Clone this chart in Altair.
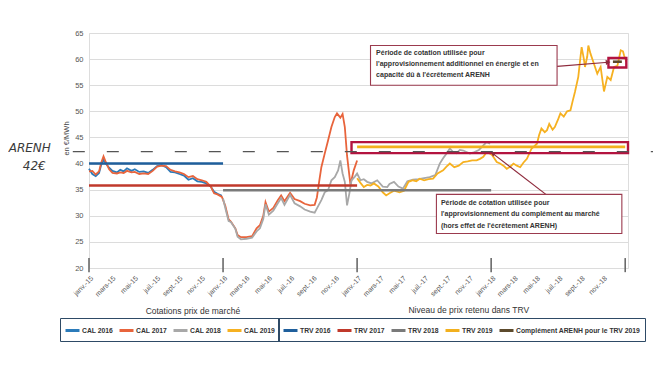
import altair as alt
import pandas as pd

FONT = "Liberation Sans"

# x = months since January 2015
x_labels = ["janv.-15", "mars-15", "mai-15", "juil.-15", "sept.-15", "nov.-15",
            "janv.-16", "mars-16", "mai-16", "juil.-16", "sept.-16", "nov.-16",
            "janv.-17", "mars-17", "mai-17", "juil.-17", "sept.-17", "nov.-17",
            "janv.-18", "mars-18", "mai-18", "juil.-18", "sept.-18", "nov.-18"]
y_ticks = [20, 25, 30, 35, 40, 45, 50, 55, 60, 65]

cal_names = ["CAL 2016", "CAL 2017", "CAL 2018", "CAL 2019"]
cal_colors = ["#2B7BBA", "#E8643C", "#A8A8A8", "#F6B121"]

cal2016_m = [0, 0.3, 0.6, 0.9, 1.1, 1.3, 1.5, 1.8, 2.1, 2.5, 2.8, 3.1, 3.4, 3.8, 4.1, 4.5, 4.9,
             5.3, 5.7, 6.1, 6.5, 6.9, 7.3, 7.7, 8.1, 8.5, 8.9, 9.3, 9.7, 10.1, 10.5, 10.9,
             11.2, 11.5, 11.9]
cal2016_v = [39.0, 38.0, 37.6, 38.2, 39.8, 40.9, 40.0, 39.2, 38.6, 38.3, 38.8, 38.5, 39.1,
             38.6, 38.9, 38.4, 38.5, 38.2, 38.8, 39.5, 39.7, 39.3, 38.4, 38.3, 38.0, 37.7,
             36.9, 37.2, 36.6, 36.5, 36.2, 35.6, 34.6, 34.2, 33.8]

cal2017_m = [0, 0.3, 0.6, 0.9, 1.1, 1.3, 1.5, 1.8, 2.1, 2.5, 2.8, 3.1, 3.4, 3.8, 4.1, 4.5, 4.9,
             5.3, 5.7, 6.1, 6.5, 6.9, 7.3, 7.7, 8.1, 8.5, 8.9, 9.3, 9.7, 10.1, 10.5, 10.9,
             11.2, 11.5, 11.9, 12.2, 12.5, 12.7, 13.1, 13.3, 13.6, 14.1, 14.6, 15.0, 15.3,
             15.6, 15.8, 16.1, 16.5, 16.9, 17.2, 17.5, 18.0, 18.4, 18.9, 19.3, 19.8, 20.2,
             20.4, 20.6, 20.8, 21.1, 21.4, 21.7, 22.0, 22.2, 22.5, 22.7, 22.9, 23.1, 23.4,
             23.7, 24.0]
cal2017_v = [38.5, 38.6, 37.9, 38.5, 40.2, 41.4, 40.3, 38.9, 38.2, 38.1, 38.3, 38.2, 38.6,
             38.3, 38.4, 38.0, 38.1, 38.0, 38.6, 39.4, 39.6, 39.5, 38.8, 38.5, 38.3, 38.0,
             37.4, 37.6, 37.0, 36.8, 36.5, 35.6, 34.3, 34.1, 33.6, 31.9, 29.3, 28.9, 27.6,
             26.3, 25.9, 25.9, 26.1, 27.6, 28.2, 30.0, 32.6, 30.8, 31.5, 33.0, 33.9, 32.8,
             34.4, 33.2, 32.8, 32.3, 32.0, 32.1, 33.5, 36.5, 39.3, 41.9, 44.4, 47.0, 48.9,
             49.6, 48.8, 49.5, 47.0, 41.5, 36.0, 38.7, 40.6]

cal2018_m = [12.0, 12.2, 12.5, 12.7, 13.1, 13.3, 13.6, 14.1, 14.6, 15.0, 15.3, 15.6, 15.8,
             16.1, 16.5, 16.9, 17.2, 17.5, 18.0, 18.4, 18.9, 19.3, 19.8, 20.2, 20.5, 20.8,
             21.1, 21.4, 21.7, 22.0, 22.3, 22.5, 22.7, 22.9, 23.1, 23.3, 23.5, 23.8, 24.0,
             24.3, 24.6, 24.9, 25.3, 25.8, 26.3, 26.7, 26.9, 27.3, 27.7, 28.1, 28.5, 29.0,
             29.5, 30.0, 30.5, 31.0, 31.4, 31.7, 32.0, 32.3, 32.6, 32.9, 33.2, 33.5, 34.1,
             34.5, 34.9, 35.3, 35.6, 35.9]
cal2018_v = [33.3, 31.5, 29.0, 28.8, 27.5, 26.0, 25.5, 25.6, 25.8, 27.0, 27.6, 29.4, 32.2,
             30.2, 31.0, 32.4, 33.4, 32.1, 34.0, 32.4, 31.8, 31.2, 30.8, 30.6, 31.8, 33.0,
             34.5, 34.9, 36.8, 37.4, 38.7, 40.6, 38.1, 36.5, 32.0, 34.2, 36.8, 37.5, 38.1,
             36.8, 37.0, 36.5, 36.2, 36.8, 35.6, 35.5, 36.1, 36.5, 35.6, 35.2, 36.6, 36.9,
             37.0, 37.2, 37.4, 37.8, 40.0, 41.0, 41.9, 42.9, 42.2, 42.0, 42.6, 42.5, 41.9,
             42.2, 42.6, 43.5, 44.1, 43.8]

cal2019_m = [24.0, 24.3, 24.6, 24.9, 25.2, 25.5, 25.9, 26.3, 26.6, 26.9, 27.3, 27.8, 28.2,
             28.6, 29.0, 29.3, 29.6, 30.0, 30.4, 30.8, 31.2, 31.7, 32.0, 32.3, 32.7, 33.1,
             33.5, 33.9, 34.3, 34.7, 35.0, 35.3, 35.6, 35.9, 36.1, 36.5, 36.8, 37.1, 37.4,
             37.7, 38.0, 38.3, 38.6, 38.9, 39.2, 39.6, 40.1, 40.3, 40.5, 40.8, 41.0, 41.2,
             41.5, 41.7, 42.0, 42.2, 42.5, 42.8, 43.1, 43.3, 43.5, 43.8, 44.0, 44.1, 44.3,
             44.4, 44.6, 44.7, 44.9, 45.2, 45.5, 45.8, 46.1, 46.4, 46.7, 47.0, 47.3, 47.6,
             47.8, 47.9, 48.1]
cal2019_v = [37.2, 36.3, 35.5, 35.9, 35.8, 36.2, 35.6, 34.5, 33.9, 34.3, 34.8, 34.5, 34.8,
             36.5, 36.8, 36.6, 37.1, 36.8, 37.0, 37.1, 38.1, 38.7, 39.4, 40.0, 39.3, 39.6,
             40.3, 40.4, 40.6, 40.6, 40.9, 41.3, 42.2, 41.9, 41.6, 40.3, 40.0, 39.6, 39.0,
             39.4, 40.0, 39.6, 39.3, 40.2, 40.9, 42.8, 43.8, 45.5, 46.7, 46.0, 46.4, 47.6,
             46.5, 47.0, 48.5, 49.6, 49.0, 50.0, 50.2, 52.0, 53.7, 56.6, 60.5, 62.3, 60.0,
             58.5, 60.5, 62.6, 61.0, 59.1, 57.2, 58.5, 53.8, 56.6, 56.0, 58.5, 58.7, 61.7,
             61.5, 60.7, 59.5]

trv_names = ["TRV 2016", "TRV 2017", "TRV 2018", "TRV 2019", "Complément ARENH pour le TRV 2019"]
trv_colors = ["#1F5F9C", "#C0392B", "#7A7A7A", "#F2B01E", "#5C4A2C"]
trv_start = [0, 0, 12, 24, 46.9]
trv_end = [12, 24, 36, 48, 47.7]
trv_value = [40.0, 35.8, 34.9, 43.2, 59.5]

year_marks = [0, 12, 24, 36, 48]

# annotation boxes (text boxes + highlight boxes)
note_x = [25.2, 31.1]
note_x2 = [41.9, 47.7]
note_y = [62.6, 34.1]
note_y2 = [55.0, 26.6]
note_lines = [["Période de cotation utilisée pour",
               "l'approvisionnement additionnel en énergie et en",
               "capacité dû à l'écrêtement ARENH"],
              ["Période de cotation utilisée pour",
               "l'approvisionnement du complément au marché",
               "(hors effet de l'écrêtement ARENH)"]]
note_text_x = [25.7, 31.5]
note_text_y = [[61.1, 59.0, 56.9], [32.4, 30.3, 28.1]]

hl_x = [23.5, 46.5]
hl_x2 = [48.25, 48.1]
hl_y = [44.1, 60.2]
hl_y2 = [42.0, 58.4]

arrow_x = [41.9, 46.5, 40.9, 36.1]
arrow_y = [58.6, 59.4, 34.1, 42.0]
arrow_id = ["a", "a", "b", "b"]
head_x = [46.4, 36.2]
head_y = [59.4, 41.9]
head_angle = [85, 307]

section_titles = ["Cotations prix de marché", "Niveau de prix retenu dans TRV"]
section_x = [9.3, 34.0]
section_y = [11.7, 11.9]

hand_text = ["ARENH", "42€"]
hand_x = [-5.3, -4.9]
hand_y = [42.9, 39.6]
arenh_line = 42.3

# ---------- tables ----------
rows = []
for name, ms, vs in zip(cal_names, [cal2016_m, cal2017_m, cal2018_m, cal2019_m],
                        [cal2016_v, cal2017_v, cal2018_v, cal2019_v]):
    for m, v in zip(ms, vs):
        rows.append({"series": name, "m": m, "v": v})
cal_df = pd.DataFrame(rows)

trv_df = pd.DataFrame({"series": trv_names, "m": trv_start, "m2": trv_end, "v": trv_value})
marks_df = pd.DataFrame({"m": year_marks, "v": [19.2] * 5, "hi": [21.9] * 5})
note_df = pd.DataFrame({"m": note_x, "x2": note_x2, "v": note_y, "y2": note_y2})
nt_rows = []
for tx, lines, yy in zip(note_text_x, note_lines, note_text_y):
    for line, y in zip(lines, yy):
        nt_rows.append({"m": tx, "v": y, "t": line})
nt_df = pd.DataFrame(nt_rows)
hl_df = pd.DataFrame({"m": hl_x, "x2": hl_x2, "v": hl_y, "y2": hl_y2})
arrow_df = pd.DataFrame({"m": arrow_x, "v": arrow_y, "id": arrow_id})
head_df = pd.DataFrame({"m": head_x, "v": head_y, "a": head_angle})
sec_df = pd.DataFrame({"m": section_x, "v": section_y, "t": section_titles})
hand_df = pd.DataFrame({"m": hand_x, "v": hand_y, "t": hand_text})
dash_df = pd.DataFrame({"m": [-1.45], "x2": [51.5], "v": [arenh_line]})

xs = alt.Scale(domain=[0, 48.25], nice=False, zero=False)
ys = alt.Scale(domain=[20, 65], nice=False, zero=False)

label_expr = "[" + ",".join("'" + s + "'" for s in x_labels) + "][round(datum.value/2)]"

x_axis = alt.Axis(values=list(range(0, 48, 2)), labelExpr=label_expr, labelAngle=-45,
                  labelFontSize=7, labelColor="#555555", labelFont=FONT, grid=False,
                  domain=False, ticks=False, labelPadding=6, title=None, labelOverlap=False)
y_axis = alt.Axis(values=y_ticks, grid=True, gridColor="#DCDCDC", gridWidth=1, domain=False,
                  ticks=False, labelPadding=6, labelFontSize=7.5, labelColor="#555555",
                  labelFont=FONT, title="en €/MWh", titleFontSize=7.5, titleFont=FONT,
                  titleFontWeight="normal", titleColor="#444444", titleX=-23, titleY=105,
                  titleBaseline="middle", titleAngle=270)

X = alt.X("m:Q", scale=xs, axis=x_axis)
Y = alt.Y("v:Q", scale=ys, axis=y_axis)

leg_common = dict(orient="none", direction="horizontal", title=None, symbolType="stroke",
                  symbolStrokeWidth=3, symbolSize=196, labelFont=FONT, labelFontSize=6.8,
                  labelFontWeight="bold", labelColor="#333333", strokeColor="#2E4A66",
                  padding=4, columnPadding=0, labelOffset=1, labelLimit=300, legendY=285,
                  gridAlign="none", columns=10)

cal_lines = alt.Chart(cal_df).mark_line(strokeWidth=1.8).encode(
    x=X, y=Y,
    color=alt.Color("series:N", scale=alt.Scale(domain=cal_names, range=cal_colors),
                    legend=alt.Legend(legendX=-29, **leg_common)),
    detail="series:N",
)

trv_rules = alt.Chart(trv_df).mark_rule(strokeWidth=2.6).encode(
    x=X, x2="m2:Q", y=Y,
    stroke=alt.Stroke("series:N", scale=alt.Scale(domain=trv_names, range=trv_colors),
                      legend=alt.Legend(legendX=189, **leg_common)),
)

year_rules = alt.Chart(marks_df).mark_rule(strokeWidth=1.6, color="#6A6A6A").encode(
    x=X, y=Y, y2="hi:Q")

hl_boxes = alt.Chart(hl_df).mark_rect(fillOpacity=0, stroke="#B3133F", strokeWidth=2.4).encode(
    x=X, x2="x2:Q", y=Y, y2="y2:Q")

arrows = alt.Chart(arrow_df).mark_line(color="#8E2A3C", strokeWidth=1.2).encode(
    x=X, y=Y, detail="id:N")

heads = alt.Chart(head_df).mark_point(shape="triangle", filled=True, size=30, color="#8E2A3C",
                                      opacity=1).encode(
    x=X, y=Y, angle=alt.Angle("a:Q", scale=None))

note_boxes = alt.Chart(note_df).mark_rect(fill="white", stroke="#9B3A4E", strokeWidth=1.1).encode(
    x=X, x2="x2:Q", y=Y, y2="y2:Q")

note_texts = alt.Chart(nt_df).mark_text(align="left", baseline="middle", font=FONT, fontSize=7,
                                        fontWeight="bold", color="#333333").encode(
    x=X, y=Y, text="t:N")

sec_texts = alt.Chart(sec_df).mark_text(align="center", baseline="middle", font=FONT,
                                        fontSize=8.5, color="#333333").encode(
    x=X, y=Y, text="t:N")

hand_texts = alt.Chart(hand_df).mark_text(align="center", baseline="middle", font="DejaVu Sans",
                                          fontSize=12, fontStyle="italic", fontWeight="normal",
                                          color="#3A3A3A").encode(
    x=X, y=Y, text="t:N")

hand_line = alt.Chart(dash_df).mark_rule(color="#555555", strokeWidth=1.3,
                                         strokeDash=[12, 22]).encode(
    x=X, x2="x2:Q", y=Y)

chart = alt.layer(
    cal_lines, trv_rules, year_rules, hl_boxes, arrows, heads, note_boxes, note_texts,
    sec_texts, hand_texts, hand_line
).properties(
    width=539, height=235,
    autosize=alt.AutoSizeParams(type="none"),
    padding={"left": 81, "top": 25, "right": 25, "bottom": 95},
).configure_view(stroke=None).configure(background="white")

chart.save("out.html", embed_options={"renderer": "svg", "actions": False})
